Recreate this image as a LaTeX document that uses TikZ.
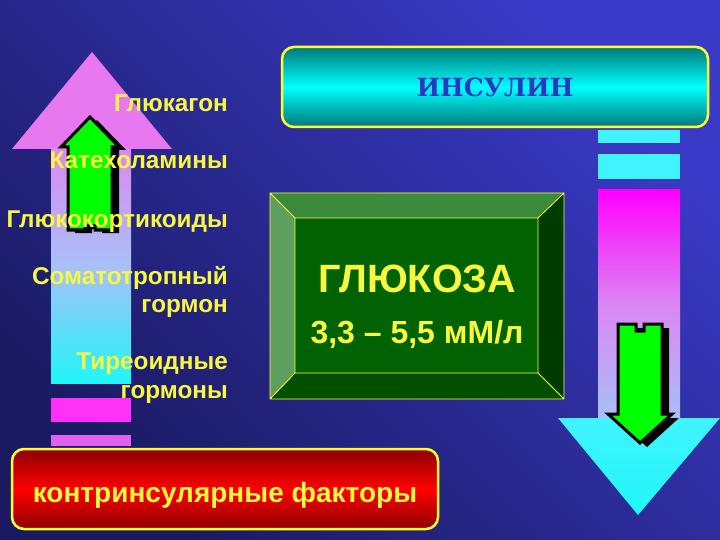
\documentclass[tikz,border=0pt]{standalone}
\usepackage{fontspec}
\setmainfont{Liberation Sans}
\newfontfamily\insfont{DejaVu Serif}
\usetikzlibrary{positioning}

\definecolor{bgtop}{HTML}{3A3AC8}
\definecolor{bgbot}{HTML}{1A1A62}
\definecolor{txtyellow}{HTML}{F8F840}
\definecolor{rimyellow}{HTML}{FFFF30}
\definecolor{headviolet}{HTML}{E878F0}
\definecolor{shaftviolet}{HTML}{DC88F0}
\definecolor{shaftmid}{HTML}{A8C0F8}
\definecolor{shaftcyan}{HTML}{20F6F8}
\definecolor{barmag}{HTML}{FF30F8}
\definecolor{barviolet}{HTML}{E060F0}
\definecolor{barcyan}{HTML}{40F4FF}
\definecolor{arrgreen}{HTML}{00FF00}
\definecolor{tealdark}{HTML}{007878}
\definecolor{insblue}{HTML}{2838C0}
\definecolor{reddark}{HTML}{8C0000}
\definecolor{bevtop}{HTML}{3C8A3C}
\definecolor{bevleft}{HTML}{609E60}
\definecolor{bevright}{HTML}{003C00}
\definecolor{bevbottom}{HTML}{005000}
\definecolor{bevcenter}{HTML}{006200}

\begin{document}
\begin{tikzpicture}[x=1pt,y=-1pt,
  hormtext/.style={text=txtyellow,font=\bfseries\fontsize{24.3}{28.5}\selectfont,inner sep=0pt,align=right},
  roundbox/.style={draw=rimyellow,line width=2.5pt,rounded corners=12pt,minimum width=426pt,minimum height=80pt},
  greenarr/.style={fill=arrgreen,draw=black,line width=3pt},
  bevline/.style={draw=rimyellow,line width=0.8pt}]

\shade[top color=bgtop,bottom color=bgbot,shading angle=-45] (0,0) rectangle (720,540);

% left arrow: up
\fill[headviolet] (92,52) -- (172,149) -- (12,149) -- cycle;
\shade[top color=shaftviolet,bottom color=shaftcyan,middle color=shaftmid] (51,149) rectangle (131,383);
\fill[barmag] (51,398) rectangle (131,422);
\fill[barviolet] (51,435) rectangle (131,446);

\fill[black,shift={(7,3)}] (90,117) -- (119,147) -- (112,147) -- (112,230) -- (95,230) -- (95,226)
  -- (85,226) -- (85,230) -- (68,230) -- (68,147) -- (61,147) -- cycle;
\path[greenarr] (90,117) -- (119,147) -- (112,147) -- (112,230) -- (95,230) -- (95,226)
  -- (85,226) -- (85,230) -- (68,230) -- (68,147) -- (61,147) -- cycle;

% right arrow: down
\fill[barcyan] (598,130) rectangle (680,143);
\fill[barcyan] (598,154) rectangle (680,179);
\shade[top color=magenta,bottom color=shaftmid,middle color=headviolet!80!shaftmid] (598,190) rectangle (680,418);
\shade[top color=barcyan,bottom color=shaftcyan] (558,418) -- (720,418) -- (638,515) -- cycle;

\fill[black,shift={(7,4)}] (618,324) -- (636,324) -- (636,331) -- (644,331) -- (644,324) -- (662,324)
  -- (662,414) -- (672,414) -- (640,443) -- (608,414) -- (618,414) -- cycle;
\path[greenarr] (618,324) -- (636,324) -- (636,331) -- (644,331) -- (644,324) -- (662,324)
  -- (662,414) -- (672,414) -- (640,443) -- (608,414) -- (618,414) -- cycle;

% glucose box
\coordinate (o1) at (270,193);
\coordinate (o2) at (564,193);
\coordinate (o3) at (564,399);
\coordinate (o4) at (270,399);
\coordinate (i1) at (295,218);
\coordinate (i2) at (538,218);
\coordinate (i3) at (538,373);
\coordinate (i4) at (295,373);
\fill[bevtop] (o1) -- (o2) -- (i2) -- (i1) -- cycle;
\fill[bevright] (o2) -- (o3) -- (i3) -- (i2) -- cycle;
\fill[bevbottom] (o3) -- (o4) -- (i4) -- (i3) -- cycle;
\fill[bevleft] (o4) -- (o1) -- (i1) -- (i4) -- cycle;
\fill[bevcenter] (i1) rectangle (i3);
\path[bevline] (o1) rectangle (o3) (i1) rectangle (i3)
  (o1) -- (i1) (o2) -- (i2) (o3) -- (i3) (o4) -- (i4);

\node[text=txtyellow,font=\bfseries\fontsize{39.5}{44}\selectfont,anchor=base] (glucose) at (417,292) {ГЛЮКОЗА};
\node[text=txtyellow,font=\bfseries\fontsize{32}{38}\selectfont,anchor=base] (norm) at (417,343) {3,3 – 5,5 мМ/л};

% boxes
\node[roundbox,top color=tealdark,bottom color=tealdark,middle color=cyan,
  text=insblue,font=\insfont\bfseries\fontsize{25}{30}\selectfont] (insulin) at (495,87) {ИНСУЛИН};
\node[roundbox,top color=reddark,bottom color=reddark,middle color=red,text=txtyellow,
  font=\bfseries\fontsize{28}{34}\selectfont,text height=27pt,text depth=0pt] (factors) at (225,489) {контринсулярные факторы};

% hormones
\node[hormtext,anchor=base east] (glucagon) at (228,112) {Глюкагон};
\node[hormtext,anchor=base east] (catechol) at (228,169) {Катехоламины};
\node[hormtext,anchor=base east] (glucocort) at (228,227) {Глюкокортикоиды};
\node[hormtext,anchor=east] (somato) at (228,292) {Соматотропный\\гормон};
\node[hormtext,anchor=east] (thyroid) at (228,378) {Тиреоидные\\гормоны};

\end{tikzpicture}
\end{document}
